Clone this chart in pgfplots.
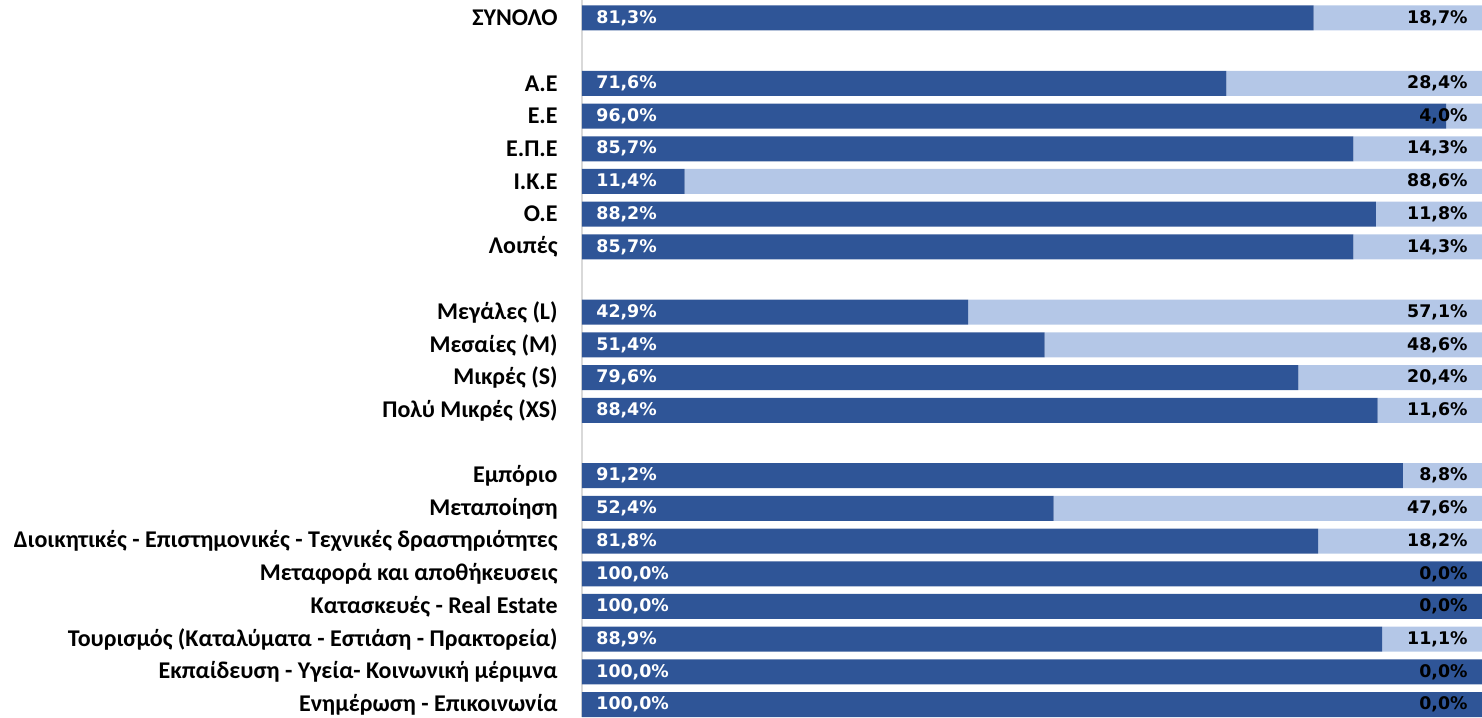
\documentclass[border=0pt]{standalone}
\usepackage{pgfplots}
\pgfplotsset{compat=1.18}
\usepackage{fontspec}
\setmainfont{Carlito}
\newfontfamily\numfont{DejaVu Sans}
\definecolor{darkb}{HTML}{2F5597}
\definecolor{lightb}{HTML}{B4C7E7}
\definecolor{axgray}{HTML}{D9D9D9}
\pgfplotsset{common/.style={
  scale only axis,
  width=450pt, height=358.5pt,
  xmin=0, xmax=100,
  ymin=-0.55, ymax=21.38,
  y dir=reverse,
  clip=false,
}}
\begin{document}
\begin{tikzpicture}
\begin{axis}[
  common,
  name=ax,
  xbar stacked,
  bar width=12.5pt,
  axis x line=none,
  axis y line=left,
  y axis line style={draw=axgray, line width=1pt, -},
  major tick length=0pt,
  ytick={0,2,3,4,5,6,7,9,10,11,12,14,15,16,17,18,19,20,21},
  yticklabels={ΣΥΝΟΛΟ,Α.Ε,Ε.Ε,Ε.Π.Ε,Ι.Κ.Ε,Ο.Ε,Λοιπές,Μεγάλες (L),Μεσαίες (M),Μικρές (S),Πολύ Μικρές (XS),Εμπόριο,Μεταποίηση,Διοικητικές - Επιστημονικές - Τεχνικές δραστηριότητες,Μεταφορά και αποθήκευσεις,Κατασκευές - Real Estate,Τουρισμός (Καταλύματα - Εστιάση - Πρακτορεία),Εκπαίδευση - Υγεία- Κοινωνική μέριμνα,Ενημέρωση - Επικοινωνία},
  yticklabel style={font=\fontsize{12}{14}\selectfont\bfseries, text=black, inner sep=0pt, anchor=east, xshift=-12pt},
]
% dark segment
\addplot[draw=none, fill=darkb] coordinates {
(81.3,0) (71.6,2) (96.0,3) (85.7,4) (11.4,5) (88.2,6) (85.7,7)
(42.9,9) (51.4,10) (79.6,11) (88.4,12)
(91.2,14) (52.4,15) (81.8,16) (100,17) (100,18) (88.9,19) (100,20) (100,21)
};
% light segment
\addplot[draw=none, fill=lightb] coordinates {
(18.7,0) (28.4,2) (4.0,3) (14.3,4) (88.6,5) (11.8,6) (14.3,7)
(57.1,9) (48.6,10) (20.4,11) (11.6,12)
(8.8,14) (47.6,15) (18.2,16) (0,17) (0,18) (11.1,19) (0,20) (0,21)
};
\end{axis}
\begin{axis}[
  common,
  axis lines=none,
  point meta=explicit symbolic,
]
% left labels
\addplot[only marks, mark=none, nodes near coords,
  every node near coord/.append style={anchor=west, xshift=7pt, inner sep=0pt, text=white, font=\numfont\bfseries\fontsize{8.7}{10}\selectfont}]
coordinates {
(0,0) [81,3\%]
(0,2) [71,6\%]
(0,3) [96,0\%]
(0,4) [85,7\%]
(0,5) [11,4\%]
(0,6) [88,2\%]
(0,7) [85,7\%]
(0,9) [42,9\%]
(0,10) [51,4\%]
(0,11) [79,6\%]
(0,12) [88,4\%]
(0,14) [91,2\%]
(0,15) [52,4\%]
(0,16) [81,8\%]
(0,17) [100,0\%]
(0,18) [100,0\%]
(0,19) [88,9\%]
(0,20) [100,0\%]
(0,21) [100,0\%]
};
% right labels
\addplot[only marks, mark=none, nodes near coords,
  every node near coord/.append style={anchor=east, xshift=-7pt, inner sep=0pt, text=black, font=\numfont\bfseries\fontsize{8.7}{10}\selectfont}]
coordinates {
(100,0) [18,7\%]
(100,2) [28,4\%]
(100,3) [4,0\%]
(100,4) [14,3\%]
(100,5) [88,6\%]
(100,6) [11,8\%]
(100,7) [14,3\%]
(100,9) [57,1\%]
(100,10) [48,6\%]
(100,11) [20,4\%]
(100,12) [11,6\%]
(100,14) [8,8\%]
(100,15) [47,6\%]
(100,16) [18,2\%]
(100,17) [0,0\%]
(100,18) [0,0\%]
(100,19) [11,1\%]
(100,20) [0,0\%]
(100,21) [0,0\%]
};
\end{axis}
\pgfresetboundingbox
\path (ax.south west) ++(-291pt,0) rectangle (ax.north east);
\end{tikzpicture}
\end{document}
